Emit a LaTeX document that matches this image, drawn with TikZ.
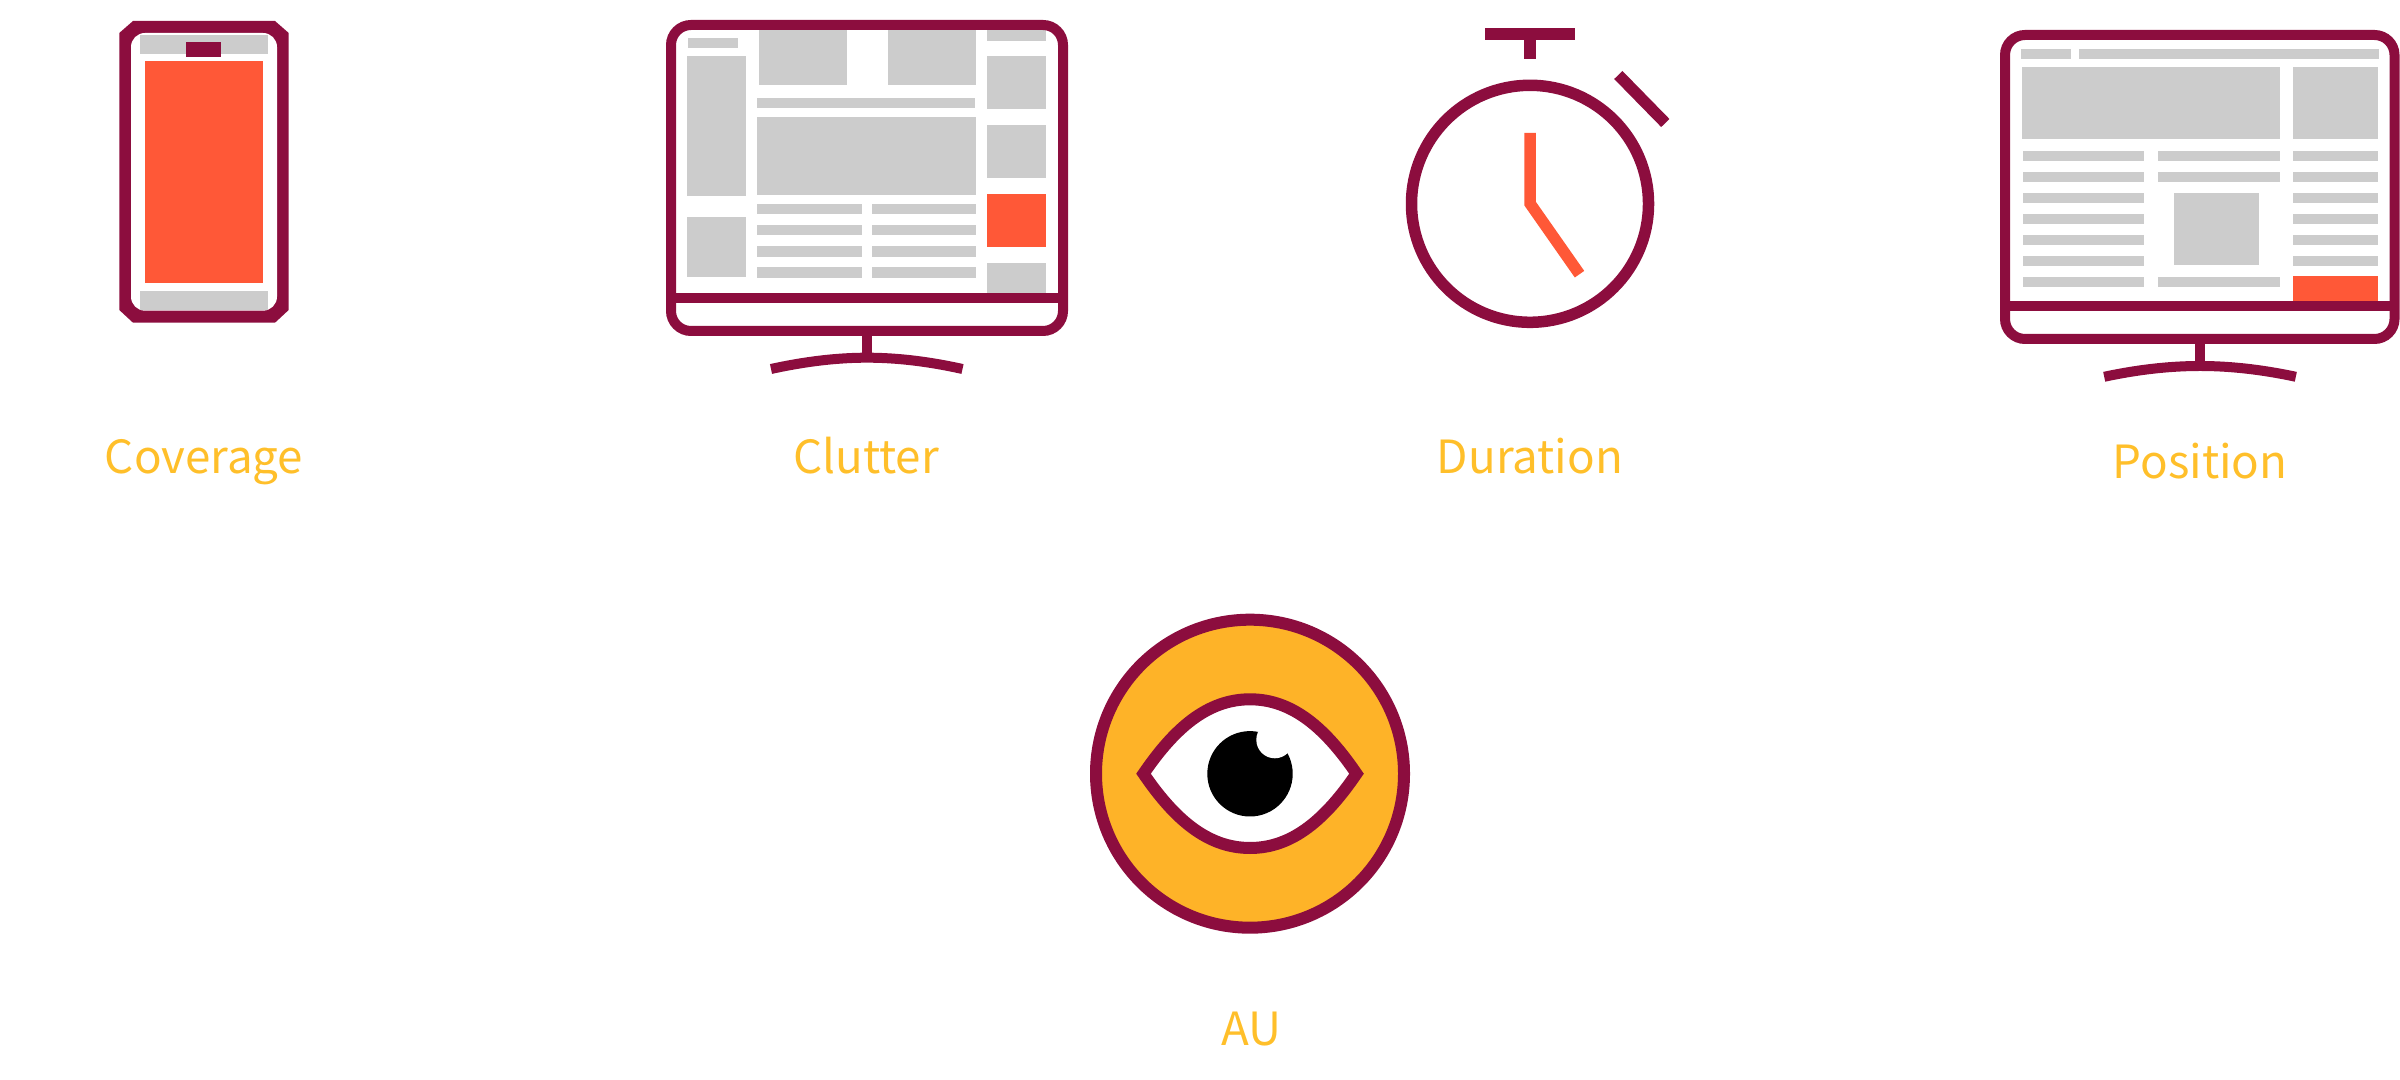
\documentclass[tikz,border=0pt]{standalone}
\usepackage{fontspec}
\setmainfont{Noto Sans CJK SC}
\definecolor{plum}{HTML}{8C0D3E}
\definecolor{redorange}{HTML}{FF5837}
\definecolor{panelgray}{HTML}{CCCCCC}
\definecolor{amber}{HTML}{FEB328}
\definecolor{labelamber}{HTML}{FFBF2A}
\begin{document}
\begin{tikzpicture}[x=0.01cm,y=-0.01cm,
        frame/.style={draw=plum,line width=1mm,rounded corners=2mm},
        bar/.style={draw=plum,line width=1mm},
        watch/.style={draw=plum,line width=1.15mm},
        panel/.style={fill=panelgray},
        hot/.style={fill=redorange},
        caption/.style={text=labelamber,font=\fontsize{13pt}{16pt}\selectfont,anchor=base,inner sep=0pt}]
\useasboundingbox (0,0) rectangle (2400,1080);

\fill[plum] (133,21) -- (275,21) -- (288.7,33) -- (288.7,310) -- (275,322.7) -- (133,322.7) -- (119.3,310) -- (119.3,33) -- cycle;
\fill[white,rounded corners=1.4mm] (131,33) rectangle (277,310.7);
\fill[panel] (140,35) rectangle (267.7,54.3);
\fill[plum] (186.3,42) rectangle (220.7,56.7);
\fill[hot] (145,61.3) rectangle (263,283.3);
\fill[panel] (140,290.7) rectangle (267.7,310.5);
\node[caption] (coverage) at (204,474) {Coverage};

\foreach \xa/\ya/\xb/\yb in {687.7/38/738.3/48.3, 686.7/56/746/196, 686.7/217.3/746/276.7,
        758.7/30/847/85, 888/30/976.3/85, 757/98/975/108.3, 757/117.3/976/194.7,
        987/30/1046/41, 987/56/1046/109.3, 987/125/1046/178.3, 987/263/1046/293}
    \fill[panel] (\xa,\ya) rectangle (\xb,\yb);
\foreach \ya/\yb in {204/214.3, 225/235.3, 246.3/256.7, 267.3/277.7} {
    \fill[panel] (757,\ya) rectangle (861.7,\yb);
    \fill[panel] (871.7,\ya) rectangle (976.3,\yb);
}
\fill[hot] (987,194) rectangle (1046,247);
\draw[frame] (671,25) rectangle (1063,331);
\draw[bar] (671,297.7) -- (1063,297.7);
\draw[bar] (867,331) -- (867,357.7);
\draw[bar] (771,369) .. controls (803,362) and (835,357.7) .. (867,357.7) .. controls (899,357.7) and (931,362) .. (962.5,369);
\node[caption] (clutter) at (866,474) {Clutter};

\draw[watch] (1530,203.8) circle (118.5);
\draw[watch] (1485,33.8) -- (1575.3,33.8);
\draw[watch] (1530,33.8) -- (1530,59.3);
\draw[watch] (1618.3,75) -- (1665.3,123);
\draw[watch,draw=redorange,miter limit=10] (1530,133) -- (1530,203.5) -- (1579.5,274.2);
\node[caption] (duration) at (1530,474) {Duration};

\foreach \xa/\ya/\xb/\yb in {2021.3/49/2070.7/59, 2079/49/2378.7/59, 2022/67/2280/139.3,
        2293.3/67/2378/139.3, 2174/192.7/2258.7/265.3, 2158/151/2279.7/161,
        2158/172/2279.7/182.3, 2158/277/2279.7/287}
    \fill[panel] (\xa,\ya) rectangle (\xb,\yb);
\foreach \ya in {151,172,193,214,235,256} {
    \fill[panel] (2023,\ya) rectangle (2144.3,\ya+10);
    \fill[panel] (2293.3,\ya) rectangle (2378,\ya+10);
}
\fill[panel] (2023,277) rectangle (2144.3,287);
\fill[hot] (2293.3,275.7) rectangle (2378,302);
\draw[frame] (2005,35) rectangle (2394.5,339);
\draw[bar] (2005,306) -- (2394.5,306);
\draw[bar] (2200,339) -- (2200,366);
\draw[bar] (2104.2,376.8) .. controls (2136,370) and (2168,366) .. (2200,366) .. controls (2232,366) and (2264,370) .. (2295.8,376.8);
\node[caption] (position) at (2200,479) {Position};

\draw[fill=amber,draw=plum,line width=1.2mm] (1250,773.7) circle (154);
\draw[fill=white,draw=plum,line width=1.2mm,miter limit=10] (1143.5,773.7) .. controls (1174,729) and (1207,699.3) .. (1250,699.3) .. controls (1293,699.3) and (1326,729) .. (1356.5,773.7) .. controls (1326,818.4) and (1293,848) .. (1250,848) .. controls (1207,848) and (1174,818.4) .. cycle;
\fill[black] (1250,773.8) circle (42.7);
\fill[white] (1274.8,739.8) circle (18.5);
\node[caption] (au) at (1251,1045) {AU};
\end{tikzpicture}
\end{document}
